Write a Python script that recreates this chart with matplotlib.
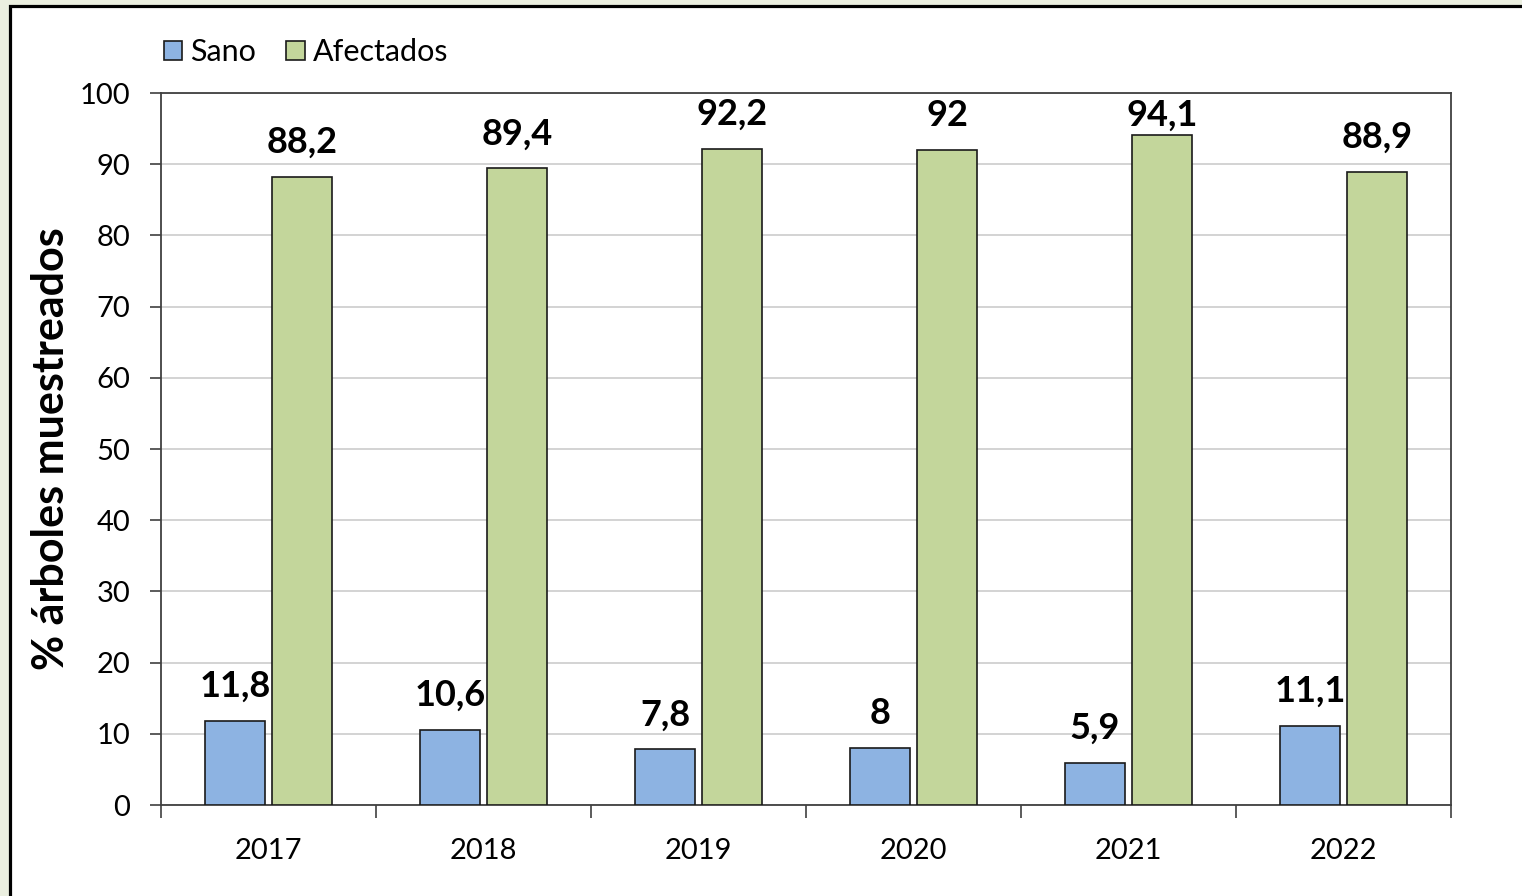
import numpy as np
import matplotlib.pyplot as plt
from matplotlib.patches import Rectangle

# data
years = ['2017', '2018', '2019', '2020', '2021', '2022']
sano = [11.8, 10.6, 7.8, 8, 5.9, 11.1]
afectados = [88.2, 89.4, 92.2, 92, 94.1, 88.9]
sano_lbl = ['11,8', '10,6', '7,8', '8', '5,9', '11,1']
afect_lbl = ['88,2', '89,4', '92,2', '92', '94,1', '88,9']

plt.rcParams['font.family'] = ['Lato', 'DejaVu Sans']

fig = plt.figure(figsize=(15.22, 8.96), dpi=100, facecolor='#ebefe0')
# white panel with black top/left border
fig.patches.append(Rectangle((9.5 / 1522, -0.05), 1.1, 1 - 6.5 / 896 + 0.05,
                             transform=fig.transFigure, facecolor='white',
                             edgecolor='black', linewidth=2.3, zorder=-10))

ax = fig.add_axes([161 / 1522, 1 - 805 / 896, 1290 / 1522, 712 / 896])
x = np.arange(len(years))
w = 0.28
off = 0.156
b1 = ax.bar(x - off, sano, w, color='#8db3e2', edgecolor='#1a1a1a', linewidth=1.2,
            label='Sano', zorder=3)
b2 = ax.bar(x + off, afectados, w, color='#c3d69b', edgecolor='#1a1a1a', linewidth=1.2,
            label='Afectados', zorder=3)

# value labels (label pushed down when it would leave the plot area, like excel)
for i in range(len(years)):
    ax.annotate(sano_lbl[i], (x[i] - off, sano[i]), xytext=(0, 13), textcoords='offset points',
                ha='center', va='bottom', fontsize=26, fontweight='bold')
    dy = 13 if afectados[i] < 93 else 2
    ax.annotate(afect_lbl[i], (x[i] + off, afectados[i]), xytext=(0, dy), textcoords='offset points',
                ha='center', va='bottom', fontsize=26, fontweight='bold')

ax.set_xlim(-0.5, len(years) - 0.5)
ax.set_ylim(0, 100)
ax.set_yticks(range(0, 101, 10))
ax.tick_params(axis='y', labelsize=21, length=8, width=1.2, color='#404040', pad=14)
ax.set_xticks(x)
ax.set_xticklabels(years)
ax.set_xticks(np.arange(-0.5, len(years), 1), minor=True)
ax.tick_params(axis='x', which='major', length=0, labelsize=21, pad=24)
ax.tick_params(axis='x', which='minor', length=9, width=1.2, color='#404040')
ax.grid(axis='y', color='#d0d0d0', linewidth=1.3, zorder=0)
ax.set_axisbelow(True)
for s in ax.spines.values():
    s.set_color('#404040')
    s.set_linewidth(1.3)

ax.set_ylabel('% árboles muestreados', fontsize=31, fontweight='bold', labelpad=6)

ax.legend(loc='center left', bbox_to_anchor=(0.0, 1 + 41 / 712), ncol=2, frameon=False, fontsize=22,
          handlelength=0.6, handleheight=0.6, handletextpad=0.25, columnspacing=1.0,
          borderaxespad=0, borderpad=0.1)

fig.savefig('out.png', dpi=100, facecolor=fig.get_facecolor())
